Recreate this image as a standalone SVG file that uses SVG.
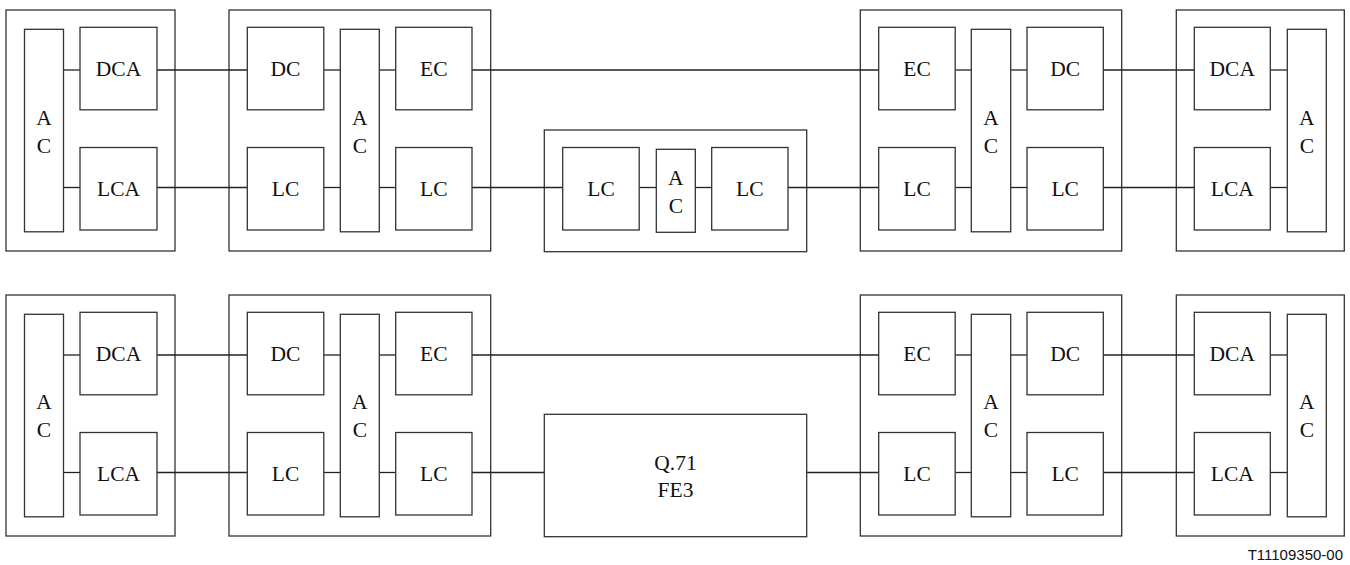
<svg xmlns="http://www.w3.org/2000/svg" width="1350" height="565" viewBox="0 0 1350 565" font-family="'Liberation Serif', 'Times New Roman', Tinos, 'DejaVu Serif', serif">
<style>
rect{fill:#fff;stroke:#333;stroke-width:1.3}
.c line{stroke:#222;stroke-width:1.3}
.n text{font-size:21.5px;fill:#111;text-anchor:middle}
.tag{font-family:'Liberation Sans',Arial,sans-serif;font-size:15px;fill:#111;text-anchor:end}
</style>
<rect x="0" y="0" width="1350" height="565" style="stroke:none"/>
<g id="box1"><rect x="6" y="10" width="169" height="241"/></g>
<g id="box2"><rect x="229" y="10" width="261.7" height="241"/></g>
<g id="box3"><rect x="544.3" y="130" width="262.4" height="121.7"/></g>
<g id="box4"><rect x="860.3" y="10" width="261.4" height="241"/></g>
<g id="box5"><rect x="1176.3" y="10" width="168" height="241"/></g>
<g id="box6"><rect x="6" y="295" width="169" height="241"/></g>
<g id="box7"><rect x="229" y="295" width="261.7" height="241"/></g>
<g id="box9"><rect x="860.3" y="295" width="261.4" height="241"/></g>
<g id="box10"><rect x="1176.3" y="295" width="168" height="241"/></g>

<g class="c" id="connectors">
<line x1="63.5" y1="70" x2="80" y2="70"/>
<line x1="157" y1="70" x2="247.3" y2="70"/>
<line x1="323.8" y1="70" x2="340.3" y2="70"/>
<line x1="379.3" y1="70" x2="395.7" y2="70"/>
<line x1="472" y1="70" x2="878.7" y2="70"/>
<line x1="955.2" y1="70" x2="971.3" y2="70"/>
<line x1="1010.7" y1="70" x2="1027" y2="70"/>
<line x1="1103.3" y1="70" x2="1194.3" y2="70"/>
<line x1="1270.3" y1="70" x2="1287.3" y2="70"/>
<line x1="63.5" y1="187.5" x2="80" y2="187.5"/>
<line x1="157" y1="187.5" x2="247.3" y2="187.5"/>
<line x1="323.8" y1="187.5" x2="340.3" y2="187.5"/>
<line x1="379.3" y1="187.5" x2="395.7" y2="187.5"/>
<line x1="472" y1="187.5" x2="562.7" y2="187.5"/>
<line x1="639.2" y1="187.5" x2="656.3" y2="187.5"/>
<line x1="695.3" y1="187.5" x2="711.7" y2="187.5"/>
<line x1="788" y1="187.5" x2="878.7" y2="187.5"/>
<line x1="955.2" y1="187.5" x2="971.3" y2="187.5"/>
<line x1="1010.7" y1="187.5" x2="1027" y2="187.5"/>
<line x1="1103.3" y1="187.5" x2="1194.3" y2="187.5"/>
<line x1="1270.3" y1="187.5" x2="1287.3" y2="187.5"/>
<line x1="63.5" y1="355" x2="80" y2="355"/>
<line x1="157" y1="355" x2="247.3" y2="355"/>
<line x1="323.8" y1="355" x2="340.3" y2="355"/>
<line x1="379.3" y1="355" x2="395.7" y2="355"/>
<line x1="472" y1="355" x2="878.7" y2="355"/>
<line x1="955.2" y1="355" x2="971.3" y2="355"/>
<line x1="1010.7" y1="355" x2="1027" y2="355"/>
<line x1="1103.3" y1="355" x2="1194.3" y2="355"/>
<line x1="1270.3" y1="355" x2="1287.3" y2="355"/>
<line x1="63.5" y1="472.5" x2="80" y2="472.5"/>
<line x1="157" y1="472.5" x2="247.3" y2="472.5"/>
<line x1="323.8" y1="472.5" x2="340.3" y2="472.5"/>
<line x1="379.3" y1="472.5" x2="395.7" y2="472.5"/>
<line x1="472" y1="472.5" x2="544.3" y2="472.5"/>
<line x1="806.7" y1="472.5" x2="878.7" y2="472.5"/>
<line x1="955.2" y1="472.5" x2="971.3" y2="472.5"/>
<line x1="1010.7" y1="472.5" x2="1027" y2="472.5"/>
<line x1="1103.3" y1="472.5" x2="1194.3" y2="472.5"/>
<line x1="1270.3" y1="472.5" x2="1287.3" y2="472.5"/>
</g>

<g class="n">
<g id="ac1"><rect x="24.5" y="29.3" width="39" height="202.5"/><text x="44" y="125">A</text><text x="44" y="153">C</text></g>
<g id="dca1"><rect x="80" y="27.3" width="77" height="82.5"/><text x="118.5" y="76">DCA</text></g>
<g id="lca1"><rect x="80" y="147.5" width="77" height="82.5"/><text x="118.5" y="196">LCA</text></g>
<g id="dc2"><rect x="247.3" y="27.3" width="76.5" height="82.5"/><text x="285.5" y="76">DC</text></g>
<g id="lc2a"><rect x="247.3" y="147.5" width="76.5" height="82.5"/><text x="285.5" y="196">LC</text></g>
<g id="ac2"><rect x="340.3" y="29.3" width="39" height="202.5"/><text x="359.8" y="125">A</text><text x="359.8" y="153">C</text></g>
<g id="ec2"><rect x="395.7" y="27.3" width="76.3" height="82.5"/><text x="433.8" y="76">EC</text></g>
<g id="lc2b"><rect x="395.7" y="147.5" width="76.3" height="82.5"/><text x="433.8" y="196">LC</text></g>
<g id="lc3a"><rect x="562.7" y="147.5" width="76.5" height="82.5"/><text x="601" y="196">LC</text></g>
<g id="ac3"><rect x="656.3" y="149.3" width="39" height="83"/><text x="675.8" y="185">A</text><text x="675.8" y="212.5">C</text></g>
<g id="lc3b"><rect x="711.7" y="147.5" width="76.3" height="82.5"/><text x="749.8" y="196">LC</text></g>
<g id="ec4"><rect x="878.7" y="27.3" width="76.5" height="82.5"/><text x="917" y="76">EC</text></g>
<g id="lc4a"><rect x="878.7" y="147.5" width="76.5" height="82.5"/><text x="917" y="196">LC</text></g>
<g id="ac4"><rect x="971.3" y="29.3" width="39.4" height="202.5"/><text x="991" y="125">A</text><text x="991" y="153">C</text></g>
<g id="dc4"><rect x="1027" y="27.3" width="76.3" height="82.5"/><text x="1065.2" y="76">DC</text></g>
<g id="lc4b"><rect x="1027" y="147.5" width="76.3" height="82.5"/><text x="1065.2" y="196">LC</text></g>
<g id="dca5"><rect x="1194.3" y="27.3" width="76" height="82.5"/><text x="1232.3" y="76">DCA</text></g>
<g id="lca5"><rect x="1194.3" y="147.5" width="76" height="82.5"/><text x="1232.3" y="196">LCA</text></g>
<g id="ac5"><rect x="1287.3" y="29.3" width="39" height="202.5"/><text x="1306.8" y="125">A</text><text x="1306.8" y="153">C</text></g>

<g id="ac6"><rect x="24.5" y="314.3" width="39" height="202.5"/><text x="44" y="409">A</text><text x="44" y="437">C</text></g>
<g id="dca6"><rect x="80" y="312.3" width="77" height="82.5"/><text x="118.5" y="361">DCA</text></g>
<g id="lca6"><rect x="80" y="432.5" width="77" height="82.5"/><text x="118.5" y="481">LCA</text></g>
<g id="dc7"><rect x="247.3" y="312.3" width="76.5" height="82.5"/><text x="285.5" y="361">DC</text></g>
<g id="lc7a"><rect x="247.3" y="432.5" width="76.5" height="82.5"/><text x="285.5" y="481">LC</text></g>
<g id="ac7"><rect x="340.3" y="314.3" width="39" height="202.5"/><text x="359.8" y="409">A</text><text x="359.8" y="437">C</text></g>
<g id="ec7"><rect x="395.7" y="312.3" width="76.3" height="82.5"/><text x="433.8" y="361">EC</text></g>
<g id="lc7b"><rect x="395.7" y="432.5" width="76.3" height="82.5"/><text x="433.8" y="481">LC</text></g>
<g id="q71"><rect x="544.3" y="414.3" width="262.4" height="122.4"/><text x="675.5" y="470">Q.71</text><text x="675.5" y="497">FE3</text></g>
<g id="ec9"><rect x="878.7" y="312.3" width="76.5" height="82.5"/><text x="917" y="361">EC</text></g>
<g id="lc9a"><rect x="878.7" y="432.5" width="76.5" height="82.5"/><text x="917" y="481">LC</text></g>
<g id="ac9"><rect x="971.3" y="314.3" width="39.4" height="202.5"/><text x="991" y="409">A</text><text x="991" y="437">C</text></g>
<g id="dc9"><rect x="1027" y="312.3" width="76.3" height="82.5"/><text x="1065.2" y="361">DC</text></g>
<g id="lc9b"><rect x="1027" y="432.5" width="76.3" height="82.5"/><text x="1065.2" y="481">LC</text></g>
<g id="dca10"><rect x="1194.3" y="312.3" width="76" height="82.5"/><text x="1232.3" y="361">DCA</text></g>
<g id="lca10"><rect x="1194.3" y="432.5" width="76" height="82.5"/><text x="1232.3" y="481">LCA</text></g>
<g id="ac10"><rect x="1287.3" y="314.3" width="39" height="202.5"/><text x="1306.8" y="409">A</text><text x="1306.8" y="437">C</text></g>
</g>

<text class="tag" x="1343" y="560">T11109350-00</text>
</svg>
